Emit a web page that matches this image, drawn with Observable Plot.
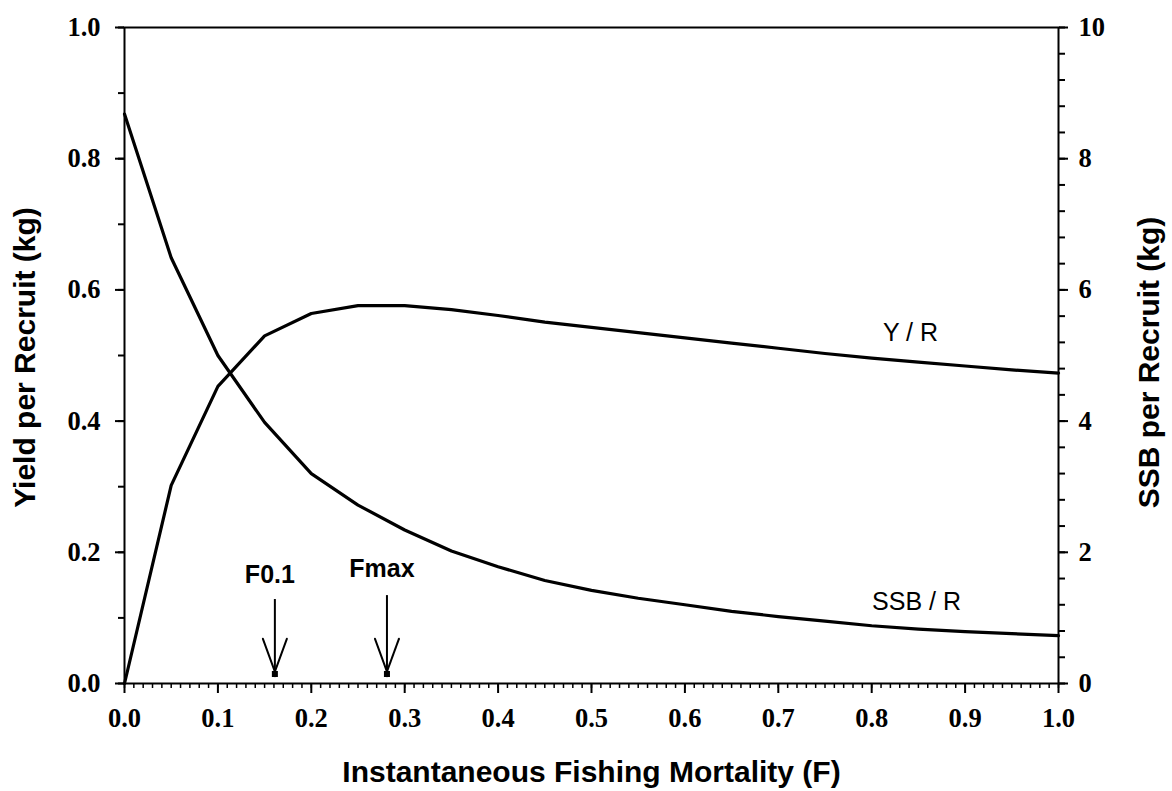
<!DOCTYPE html>
<html>
<head>
<meta charset="utf-8">
<script src="https://cdn.jsdelivr.net/npm/d3@7"></script>
<script src="https://cdn.jsdelivr.net/npm/@observablehq/plot@0.6"></script>
<style>
  html, body { margin: 0; padding: 0; background: #fff; }
</style>
</head>
<body>
<div id="chart"></div>
<script>
// Fishing mortality (x)
const fValues = [0, 0.05, 0.10, 0.15, 0.20, 0.25, 0.30, 0.35, 0.40, 0.45, 0.50,
                 0.55, 0.60, 0.65, 0.70, 0.75, 0.80, 0.85, 0.90, 0.95, 1.00];
// Yield per recruit (kg), left axis
const yieldPerRecruit = [0, 0.302, 0.453, 0.530, 0.564, 0.576, 0.576, 0.570, 0.561, 0.551, 0.543,
                         0.535, 0.527, 0.519, 0.511, 0.503, 0.496, 0.490, 0.484, 0.478, 0.473];
// Spawning stock biomass per recruit (kg), right axis
const ssbPerRecruit = [8.68, 6.49, 5.00, 3.98, 3.20, 2.72, 2.34, 2.02, 1.78, 1.57, 1.42,
                       1.30, 1.20, 1.10, 1.02, 0.95, 0.88, 0.83, 0.79, 0.76, 0.73];
// Reference points
const refNames = ["F0.1", "Fmax"];
const refF = [0.161, 0.281];

// Tick labels
const leftTicks = [0, 0.2, 0.4, 0.6, 0.8, 1.0];
const rightTicks = [0, 2, 4, 6, 8, 10];
const xTicks = [0, 0.1, 0.2, 0.3, 0.4, 0.5, 0.6, 0.7, 0.8, 0.9, 1.0];

const ssbMax = 10; // right axis top maps onto left axis top (1.0)

const yprData = fValues.map((f, i) => ({f, v: yieldPerRecruit[i]}));
const ssbData = fValues.map((f, i) => ({f, v: ssbPerRecruit[i] / ssbMax}));
const arrows = refNames.map((name, i) => ({name, f: refF[i], top: i === 0 ? 0.128 : 0.134, ly: i === 0 ? 0.166 : 0.174}));
const wings = arrows.flatMap(a => [-20, 20].map(r => ({f: a.f, r})));

const serif = "'Liberation Serif', 'Times New Roman', serif";
const sans = "'Liberation Sans', Arial, sans-serif";
const fmt1 = d3.format(".1f");

const wingShape = { draw(ctx, l) { ctx.moveTo(0, 0); ctx.lineTo(0, -l); } };
const tickText = {fontFamily: serif, fontWeight: "bold", fontSize: 26.5, fill: "#000", lineAnchor: "middle"};

const chart = Plot.plot({
  width: 1172,
  height: 791,
  marginLeft: 124,
  marginRight: 114,
  marginTop: 27,
  marginBottom: 108,
  style: { background: "#fff", color: "#000", fontFamily: serif },
  x: { domain: [0, 1] },
  y: { domain: [0, 1] },
  marks: [
    // minor ticks
    Plot.axisX({ticks: d3.range(0, 101).map(i => i / 100), tickSize: 5, tickFormat: () => "", strokeWidth: 1.5, label: null}),
    Plot.axisY({anchor: "left", ticks: d3.range(0, 11).map(i => i / 10), tickSize: 6, tickFormat: () => "", strokeWidth: 2, label: null}),
    Plot.axisY({anchor: "right", ticks: d3.range(0, 26).map(i => i / 25), tickSize: 6, tickFormat: () => "", strokeWidth: 2, label: null}),
    // major ticks
    Plot.axisX({ticks: xTicks, tickSize: 10, tickFormat: () => "", strokeWidth: 2, label: null}),
    Plot.axisY({anchor: "left", ticks: leftTicks, tickSize: 9, tickFormat: () => "", strokeWidth: 2, label: null}),
    Plot.axisY({anchor: "right", ticks: rightTicks.map(t => t / ssbMax), tickSize: 9, tickFormat: () => "", strokeWidth: 2, label: null}),
    // tick labels
    Plot.text(xTicks, {x: d => d, frameAnchor: "bottom", dy: 35, text: fmt1, textAnchor: "middle", ...tickText}),
    Plot.text(leftTicks, {y: d => d, frameAnchor: "left", dx: -24, text: fmt1, textAnchor: "end", ...tickText}),
    Plot.text(rightTicks, {y: d => d / ssbMax, frameAnchor: "right", dx: 20, text: d => String(d), textAnchor: "start", ...tickText}),
    Plot.frame({stroke: "#000", strokeWidth: 2}),
    // curves
    Plot.line(yprData, {x: "f", y: "v", stroke: "#000", strokeWidth: 3.2}),
    Plot.line(ssbData, {x: "f", y: "v", stroke: "#000", strokeWidth: 3.2}),
    // reference arrows
    Plot.ruleX(arrows, {x: "f", y1: "top", y2: 0.009, stroke: "#000", strokeWidth: 2}),
    Plot.vector(wings, {x: "f", y: 0.018, rotate: "r", length: 35, anchor: "start", shape: wingShape, stroke: "#000", strokeWidth: 2}),
    Plot.dot(arrows, {x: "f", y: 0.0145, symbol: "square", r: 3.4, fill: "#000", stroke: "none"}),
    Plot.text(arrows, {x: "f", y: "ly", text: "name", dx: -5, fontFamily: sans, fontWeight: "bold", fontSize: 25, fill: "#000"}),
    // curve labels
    Plot.text(["Y / R"], {x: 0.8415, y: 0.535, text: d => d, fontFamily: sans, fontWeight: "normal", fontSize: 25, fill: "#000"}),
    Plot.text(["SSB / R"], {x: 0.848, y: 0.1235, text: d => d, fontFamily: sans, fontWeight: "normal", fontSize: 25, fill: "#000"}),
    // axis titles
    Plot.text(["Instantaneous Fishing Mortality (F)"], {frameAnchor: "bottom", textAnchor: "middle", lineAnchor: "middle", dy: 89, text: d => d, fontFamily: sans, fontWeight: "bold", fontSize: 30, fill: "#000"}),
    Plot.text(["Yield per Recruit (kg)"], {frameAnchor: "left", textAnchor: "middle", lineAnchor: "middle", dx: -99, dy: 2, rotate: -90, text: d => d, fontFamily: sans, fontWeight: "bold", fontSize: 30, fill: "#000"}),
    Plot.text(["SSB per Recruit (kg)"], {frameAnchor: "right", textAnchor: "middle", lineAnchor: "middle", dx: 91, dy: 7, rotate: -90, text: d => d, fontFamily: sans, fontWeight: "bold", fontSize: 30, fill: "#000"})
  ]
});
document.getElementById("chart").appendChild(chart);
</script>
</body>
</html>
